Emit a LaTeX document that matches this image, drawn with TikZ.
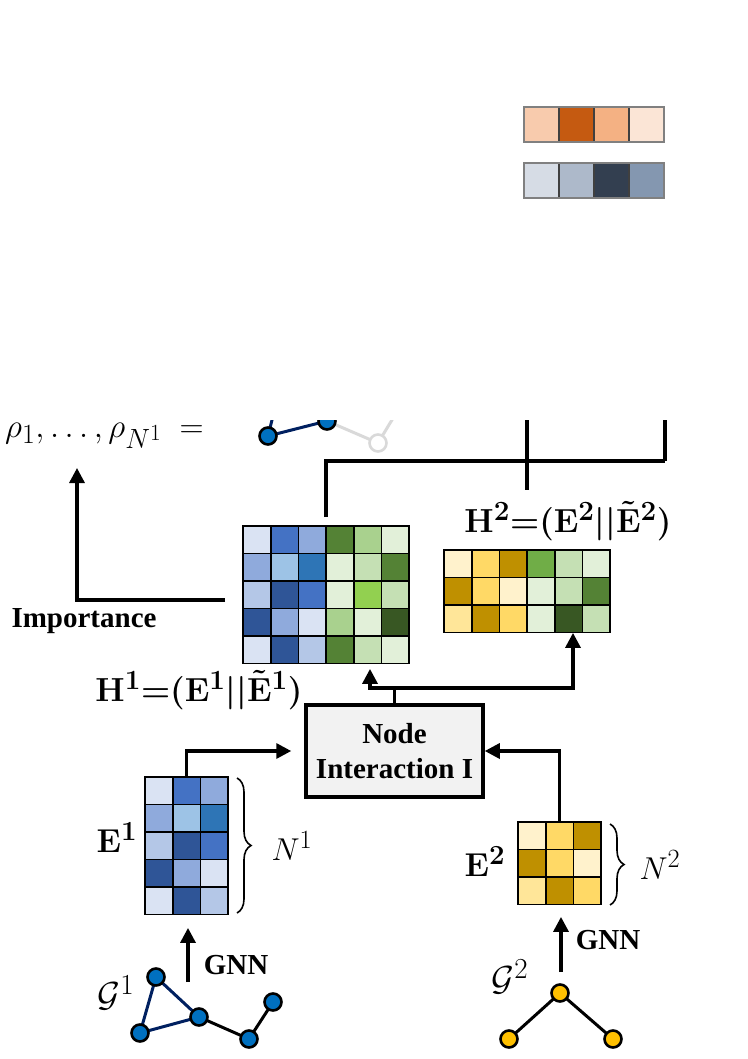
\documentclass[tikz,border=0pt]{standalone}
\usepackage{graphicx}
\usepackage{fontspec}
\setmainfont{Liberation Serif}
\usetikzlibrary{arrows.meta,decorations.pathreplacing}
\definecolor{b1}{HTML}{DAE3F3}\definecolor{b2}{HTML}{B4C7E7}\definecolor{b3}{HTML}{8FAADC}
\definecolor{b4}{HTML}{9DC3E6}\definecolor{b5}{HTML}{4472C4}\definecolor{b6}{HTML}{2E75B6}
\definecolor{b7}{HTML}{2F5597}
\definecolor{g1}{HTML}{E2F0D9}\definecolor{g2}{HTML}{C5E0B4}\definecolor{g3}{HTML}{A9D18E}
\definecolor{g4}{HTML}{548235}\definecolor{g5}{HTML}{92D050}\definecolor{g6}{HTML}{385723}
\definecolor{g7}{HTML}{70AD47}
\definecolor{y1}{HTML}{FFF2CC}\definecolor{y2}{HTML}{FFE699}\definecolor{y3}{HTML}{FFD966}
\definecolor{y4}{HTML}{BF9000}
\definecolor{o1}{HTML}{F8CBAD}\definecolor{o2}{HTML}{C55A11}\definecolor{o3}{HTML}{F4B183}
\definecolor{o4}{HTML}{FBE5D6}
\definecolor{s1}{HTML}{D6DCE5}\definecolor{s2}{HTML}{ADB9CA}\definecolor{s3}{HTML}{333F50}
\definecolor{s4}{HTML}{8497B0}
\definecolor{boxgray}{HTML}{F2F2F2}
\definecolor{navy}{HTML}{002060}
\definecolor{nodeblue}{HTML}{0070C0}
\definecolor{nodeyellow}{HTML}{FFC000}
\definecolor{ghost}{HTML}{D9D9D9}
\newcommand\drawmat[3]{%
  \foreach \row [count=\r from 0] in {#3}{%
    \foreach \c [count=\k from 0] in \row{%
      \filldraw[cell,fill=\c] ({#1+\k*27.7},{#2+\r*27.5}) rectangle +(27.7,27.5);
    }%
  }%
}
\newcommand\Hlab[1]{\scalebox{1.34}{$\mathbf{H}^{\mathbf{#1}}{=}(\mathbf{E}^{\mathbf{#1}}\vert\vert\tilde{\mathbf{E}}^{\mathbf{#1}})$}}
\newcommand\Elab[1]{\scalebox{1.33}{$\mathbf{E}^{\mathbf{#1}}$}}
\begin{document}
\begin{tikzpicture}[x=1pt,y=-1pt,
  line/.style={line width=3.3pt,black},
  arr/.style={line,-{Triangle[width=15pt,length=15pt]}},
  cell/.style={draw=black,line width=1.8pt},
  barcell/.style={draw=black!75,line width=1.2pt},
  mat/.style={inner sep=0,anchor=north west},
  gnode/.style={circle,draw=black,line width=2.6pt,minimum size=17pt,inner sep=0},
  lbl/.style={font=\fontsize{29}{35}\selectfont\bfseries},
  mlbl/.style={font=\fontsize{24.88}{30}\selectfont\boldmath},
  glbl/.style={font=\fontsize{24.88}{30}\selectfont}]
\useasboundingbox (0,0) rectangle (747,1059);

% colour bars
\foreach \c [count=\k from 0] in {o1,o2,o3,o4}
  \filldraw[barcell,fill=\c] ({524+\k*35},107) rectangle +(35,35);
\draw[gray,line width=1.8pt] (524,107) rectangle (664,142);
\foreach \c [count=\k from 0] in {s1,s2,s3,s4}
  \filldraw[barcell,fill=\c] ({524+\k*35},163) rectangle +(35,35);
\draw[gray,line width=1.8pt] (524,163) rectangle (664,198);

% clipped upper fragment
\begin{scope}
\clip (0,420) rectangle (747,1059);
\node[glbl,anchor=base west,inner sep=0] (rho) at (5,437) {\scalebox{1.34}{$\rho_1, \ldots, \rho_{N^1}\ =$}};
\coordinate (q1) at (277,400);
\coordinate (q3) at (404,400);
\coordinate (p1) at (268,436);
\coordinate (p2) at (327,421);
\coordinate (p3) at (378,443);
\draw[navy,line width=3pt] (q1) -- (p1) -- (p2);
\draw[ghost,line width=3pt] (p2) -- (p3) -- (q3);
\node[gnode,fill=nodeblue] (np1) at (p1) {};
\node[gnode,fill=nodeblue] (np2) at (p2) {};
\node[gnode,draw=ghost,fill=white] (np3) at (p3) {};
\coordinate (tR) at (665,410);
\coordinate (tM) at (665,461);
\coordinate (vT) at (527,410);
\coordinate (vB) at (527,490);
\draw[line] (vT) -- (vB);
\draw[line] (tM) -- (tR);
\end{scope}

% matrices
\node[mat,minimum width=166.2pt,minimum height=137.5pt] (H1) at (243,526) {};
\drawmat{243}{526}{{b1,b5,b3,g4,g3,g1},{b3,b4,b6,g1,g2,g4},{b2,b7,b5,g1,g5,g2},{b7,b3,b1,g3,g1,g6},{b1,b7,b2,g4,g2,g1}}
\node[mat,minimum width=166.2pt,minimum height=82.5pt] (H2) at (444,550) {};
\drawmat{444}{550}{{y1,y3,y4,g7,g2,g1},{y4,y3,y1,g1,g2,g4},{y2,y4,y3,g1,g6,g2}}
\node[mat,minimum width=83.1pt,minimum height=137.5pt] (E1) at (145,777) {};
\drawmat{145}{777}{{b1,b5,b3},{b3,b4,b6},{b2,b7,b5},{b7,b3,b1},{b1,b7,b2}}
\node[mat,minimum width=83.1pt,minimum height=82.5pt] (E2) at (518,822) {};
\drawmat{518}{822}{{y1,y3,y4},{y4,y3,y1},{y2,y4,y3}}

% node interaction box
\node[lbl,align=center,draw=black,fill=boxgray,line width=3.5pt,
      minimum width=177pt,minimum height=92pt,inner sep=0] (box) at (394.5,751)
      {Node\\Interaction I};

% top connectors
\coordinate (tA) at (326,517);
\draw[line] (tA) |- (tM);
\coordinate (impS) at (225,600);
\coordinate (impT) at (77,468);
\draw[arr] (impS) -| (impT);
\node[lbl,anchor=west] (imp) at (8,621) {Importance};

% box outputs
\coordinate (jL) at (370,688);
\coordinate (jR) at (573,688);
\draw[arr,shorten >=5pt] (box.north) |- (jL) -- (jL |- H1.south);
\draw[arr] (jL -| box.north) -| (jR |- H2.south);

% box inputs
\draw[arr,shorten >=13pt] (E1.north) |- (box.west);
\draw[arr] (E2.north) |- (box.east);

% labels
\node[mlbl,inner sep=0] (h1lbl) at (199,690) {\Hlab{1}};
\node[mlbl,inner sep=0] (h2lbl) at (568,521) {\Hlab{2}};
\node[mlbl,inner sep=0] (e1lbl) at (117,838) {\Elab{1}};
\node[mlbl,inner sep=0] (e2lbl) at (485,862) {\Elab{2}};

% braces
\draw[line width=1.6pt,decorate,decoration={brace,amplitude=14pt}] (237,778) -- (237,913);
\node[glbl] (n1) at (292,846) {\scalebox{1.27}{$N^1$}};
\draw[line width=1.6pt,decorate,decoration={brace,amplitude=14pt}] (610,824) -- (610,905);
\node[glbl] (n2) at (660,865) {\scalebox{1.27}{$N^2$}};

% GNN arrows
\coordinate (gA1) at (188,982);
\draw[arr,shorten >=13pt] (gA1) -- (gA1 |- E1.south);
\node[lbl] (gnn1) at (236,965) {GNN};
\coordinate (gA2) at (561,972);
\draw[arr,shorten >=12pt] (gA2) -- (gA2 |- E2.south);
\node[lbl] (gnn2) at (608,940) {GNN};

% graph 1
\node[glbl] (g1lbl) at (116,993) {\scalebox{1.4}{$\mathcal{G}^1$}};
\coordinate (a) at (156,977);
\coordinate (b) at (140,1033);
\coordinate (c) at (199,1017);
\coordinate (d) at (249,1039);
\coordinate (e) at (273,1002);
\draw[navy,line width=3pt] (a) -- (b) -- (c) -- cycle;
\draw[black,line width=3pt] (c) -- (d) -- (e);
\foreach \n in {a,b,c,d,e} \node[gnode,fill=nodeblue] (n\n) at (\n) {};

% graph 2
\node[glbl] (g2lbl) at (510,977) {\scalebox{1.4}{$\mathcal{G}^2$}};
\coordinate (t) at (560,993);
\coordinate (l) at (509,1039);
\coordinate (r) at (613,1039);
\draw[black,line width=3pt] (l) -- (t) -- (r);
\foreach \n in {t,l,r} \node[gnode,fill=nodeyellow] (m\n) at (\n) {};
\end{tikzpicture}
\end{document}
